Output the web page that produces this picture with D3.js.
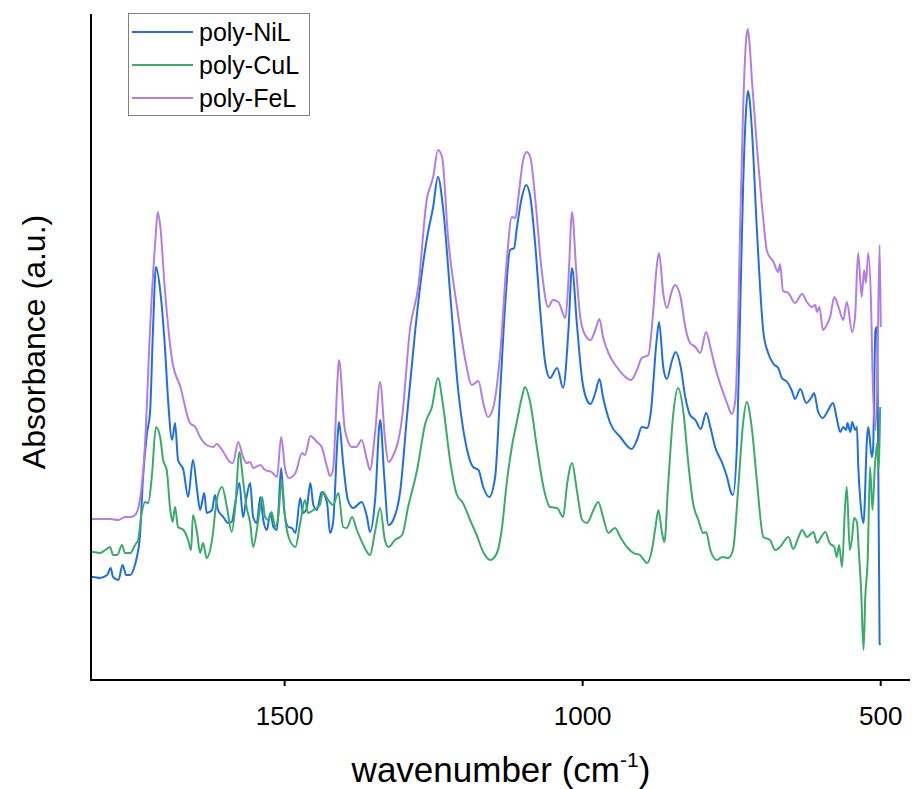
<!DOCTYPE html>
<html>
<head>
<meta charset="utf-8">
<script src="https://cdn.jsdelivr.net/npm/d3@7"></script>
<style>
  html, body { margin: 0; padding: 0; background: #fff; }
  svg { display: block; font-family: "Liberation Sans", Arial, sans-serif; }
</style>
</head>
<body>
<svg id="chart" width="912" height="789"></svg>
<script>
// ---- data: [wavenumber (cm-1), absorbance (a.u., offset)] ----
const seriesNames = ["poly-NiL", "poly-CuL", "poly-FeL"];
const xTicks = [1500, 1000, 500];
const xDomain = [1824, 450];
const yDomain = [0, 6.66];

const niL = [[1824,1.03],[1820,1.03],[1809,1.02],[1797,1.05],[1791,1.12],[1787,1.03],[1778,1.00],[1771,1.15],[1765,1.05],[1758,1.05],[1753,1.10],[1747,1.23],[1742,1.43],[1737,2.00],[1730,2.47],[1725,2.67],[1720,3.50],[1715,4.13],[1708,3.90],[1700,3.33],[1695,2.83],[1688,2.40],[1683,2.57],[1678,2.20],[1669,2.10],[1661,1.83],[1653,2.20],[1646,1.90],[1641,1.70],[1634,1.87],[1630,1.67],[1621,1.70],[1616,1.85],[1611,1.70],[1602,1.63],[1594,1.57],[1588,1.58],[1582,1.77],[1575,1.97],[1569,1.63],[1563,1.83],[1557,1.97],[1552,1.63],[1546,1.57],[1540,1.83],[1535,1.60],[1529,1.50],[1523,1.67],[1518,1.53],[1512,1.50],[1505,2.12],[1500,1.70],[1493,1.53],[1487,1.52],[1481,1.47],[1473,1.82],[1468,1.67],[1462,1.72],[1456,1.97],[1451,1.75],[1445,1.70],[1437,1.88],[1428,1.77],[1423,1.47],[1418,1.57],[1410,2.45],[1408,2.58],[1401,2.17],[1393,1.80],[1384,1.72],[1370,1.78],[1361,1.63],[1356,1.48],[1347,1.83],[1339,2.60],[1332,2.03],[1325,1.55],[1317,1.60],[1305,1.90],[1294,2.63],[1280,3.50],[1269,4.07],[1260,4.43],[1250,4.73],[1242,5.03],[1233,4.70],[1221,3.83],[1208,2.90],[1193,2.30],[1183,2.13],[1174,2.10],[1166,1.93],[1156,1.83],[1146,2.03],[1138,2.83],[1129,3.77],[1121,4.30],[1114,4.32],[1110,4.50],[1101,4.83],[1094,4.95],[1087,4.83],[1079,4.37],[1070,3.67],[1062,3.17],[1054,3.02],[1042,3.12],[1032,2.92],[1023,3.50],[1017,4.12],[1009,3.57],[1000,3.00],[992,2.80],[986,2.76],[978,2.87],[971,3.01],[965,2.83],[953,2.57],[936,2.43],[917,2.31],[908,2.40],[900,2.53],[891,2.52],[885,2.67],[875,3.40],[871,3.58],[864,3.13],[858,3.01],[849,3.20],[843,3.28],[835,3.14],[827,2.83],[819,2.65],[810,2.60],[801,2.51],[792,2.67],[785,2.53],[777,2.33],[765,2.17],[757,2.03],[750,1.87],[747,1.85],[740,2.40],[735,3.67],[730,4.93],[725,5.70],[722,5.89],[719,5.80],[715,5.48],[707,4.52],[696,3.48],[688,3.27],[679,3.16],[671,3.12],[665,3.02],[656,2.98],[648,2.89],[643,2.81],[634,2.91],[624,2.77],[615,2.83],[611,2.87],[604,2.68],[596,2.62],[589,2.68],[579,2.77],[573,2.62],[567,2.48],[562,2.53],[557,2.50],[555,2.57],[550,2.48],[547,2.58],[542,2.50],[539,2.53],[537,2.17],[533,1.77],[528,1.57],[522,2.43],[520,2.53],[514,2.23],[512,2.30],[508,3.50],[505,3.53],[501,0.37],[500,0.35]];

const cuL = [[1824,1.28],[1820,1.28],[1809,1.27],[1800,1.30],[1792,1.33],[1787,1.25],[1780,1.25],[1772,1.35],[1767,1.27],[1758,1.27],[1750,1.35],[1745,1.40],[1739,1.67],[1733,1.78],[1728,1.77],[1722,2.03],[1715,2.53],[1708,2.43],[1703,2.20],[1697,2.10],[1691,1.70],[1687,1.58],[1683,1.73],[1678,1.53],[1669,1.50],[1661,1.40],[1656,1.30],[1653,1.65],[1646,1.47],[1641,1.27],[1636,1.37],[1630,1.22],[1621,1.40],[1613,1.80],[1604,1.93],[1596,1.73],[1588,1.48],[1582,1.73],[1575,2.28],[1569,2.00],[1563,1.73],[1557,1.57],[1552,1.33],[1544,1.57],[1537,1.83],[1532,1.63],[1527,1.60],[1521,1.68],[1515,1.53],[1510,1.63],[1504,1.98],[1498,1.60],[1492,1.42],[1481,1.33],[1473,1.57],[1465,1.80],[1460,1.67],[1451,1.70],[1440,1.75],[1435,1.88],[1426,1.80],[1418,1.75],[1409,1.87],[1401,1.53],[1395,1.52],[1386,1.63],[1378,1.50],[1367,1.35],[1356,1.25],[1347,1.50],[1339,1.72],[1331,1.40],[1325,1.33],[1314,1.40],[1302,1.45],[1292,1.73],[1277,2.10],[1263,2.57],[1252,2.73],[1242,3.02],[1233,2.73],[1221,2.17],[1210,1.85],[1200,1.77],[1188,1.60],[1177,1.45],[1166,1.28],[1154,1.20],[1143,1.27],[1135,1.50],[1126,2.00],[1118,2.33],[1110,2.57],[1101,2.83],[1096,2.93],[1087,2.77],[1076,2.33],[1065,1.93],[1054,1.73],[1042,1.72],[1032,1.63],[1025,1.97],[1017,2.17],[1009,1.90],[1000,1.60],[992,1.57],[981,1.70],[973,1.78],[965,1.63],[956,1.47],[945,1.52],[936,1.43],[925,1.33],[914,1.27],[903,1.25],[891,1.17],[883,1.30],[877,1.53],[872,1.70],[866,1.47],[862,1.38],[856,1.93],[847,2.67],[839,2.92],[830,2.67],[822,2.17],[814,1.77],[805,1.60],[797,1.47],[792,1.48],[785,1.30],[774,1.20],[765,1.23],[755,1.22],[747,1.30],[738,1.93],[730,2.57],[724,2.78],[715,2.50],[707,2.00],[696,1.43],[685,1.40],[676,1.30],[668,1.33],[654,1.43],[646,1.31],[637,1.43],[631,1.50],[623,1.43],[612,1.48],[606,1.37],[601,1.41],[592,1.48],[585,1.37],[577,1.33],[573,1.23],[569,1.35],[564,1.13],[559,1.73],[556,1.93],[551,1.30],[547,1.43],[544,1.62],[539,1.58],[536,1.30],[532,0.90],[528,0.30],[525,0.83],[521,1.20],[517,2.13],[513,1.70],[509,2.13],[505,2.37],[503,2.10],[500,2.73]];

const feL = [[1824,1.61],[1792,1.61],[1778,1.60],[1767,1.63],[1758,1.63],[1750,1.65],[1742,1.80],[1733,2.40],[1725,3.50],[1716,4.40],[1712,4.68],[1708,4.55],[1700,3.90],[1688,3.20],[1674,2.93],[1658,2.57],[1649,2.53],[1641,2.43],[1630,2.35],[1619,2.33],[1613,2.36],[1602,2.28],[1591,2.18],[1586,2.17],[1577,2.38],[1569,2.23],[1563,2.17],[1557,2.18],[1552,2.12],[1540,2.15],[1532,2.10],[1521,2.08],[1512,2.03],[1505,2.43],[1498,2.10],[1492,2.02],[1481,2.07],[1470,2.27],[1465,2.25],[1456,2.44],[1445,2.38],[1437,2.33],[1428,2.13],[1423,2.04],[1418,2.10],[1410,3.05],[1408,3.20],[1398,2.50],[1386,2.33],[1379,2.33],[1370,2.40],[1361,2.20],[1356,2.10],[1347,2.50],[1339,2.98],[1331,2.43],[1325,2.18],[1319,2.22],[1302,2.63],[1289,3.50],[1275,3.93],[1260,4.83],[1255,4.93],[1250,5.03],[1242,5.30],[1235,5.23],[1225,4.43],[1210,3.73],[1196,3.20],[1185,2.95],[1174,2.99],[1166,2.77],[1158,2.63],[1149,2.73],[1138,3.23],[1126,4.23],[1118,4.63],[1112,4.62],[1107,4.83],[1099,5.20],[1093,5.28],[1087,5.23],[1079,4.83],[1068,4.10],[1057,3.73],[1049,3.80],[1040,3.78],[1028,3.62],[1023,4.00],[1017,4.68],[1010,4.10],[1003,3.62],[995,3.45],[986,3.40],[978,3.50],[971,3.61],[965,3.43],[956,3.27],[942,3.13],[931,3.05],[918,3.00],[908,3.10],[900,3.22],[889,3.25],[881,3.67],[875,4.13],[871,4.27],[864,3.87],[858,3.72],[849,3.90],[844,3.95],[835,3.83],[827,3.53],[819,3.37],[810,3.33],[802,3.27],[792,3.48],[785,3.33],[777,3.13],[765,2.90],[757,2.77],[749,2.66],[743,2.80],[738,3.67],[735,4.52],[730,5.70],[725,6.40],[722,6.51],[719,6.35],[715,5.98],[707,5.35],[696,4.60],[690,4.29],[679,4.18],[671,4.08],[668,4.16],[663,3.89],[654,3.87],[643,3.77],[631,3.86],[623,3.78],[615,3.73],[609,3.75],[606,3.68],[602,3.73],[596,3.50],[589,3.56],[584,3.63],[577,3.83],[570,3.73],[562,3.60],[556,3.78],[547,3.48],[542,3.65],[537,4.27],[531,3.83],[527,4.10],[524,3.97],[520,4.27],[515,3.67],[513,3.10],[508,2.50],[505,3.00],[501,4.35],[499,3.53]];

const seriesData = [niL, cuL, feL];
const seriesColors = ["#1f6fe3", "#3aab69", "#b27de6"];

// ---- layout ----
const svg = d3.select("#chart");
const mLeft = 91, mRight = 910, mTop = 14, mBottom = 680;

const x = d3.scaleLinear().domain(xDomain).range([mLeft, mRight]);
const y = d3.scaleLinear().domain(yDomain).range([mBottom, mTop]);

const line = d3.line()
  .x(d => x(d[0]))
  .y(d => y(d[1]))
  .curve(d3.curveMonotoneX);

const plot = svg.append("g");
plot.append("defs").append("clipPath").attr("id", "clip")
  .append("rect").attr("x", mLeft).attr("y", mTop - 10).attr("width", mRight - mLeft).attr("height", mBottom - mTop + 10);

seriesData.forEach((s, i) => {
  plot.append("path")
    .datum(s)
    .attr("fill", "none")
    .attr("stroke", seriesColors[i])
    .attr("stroke-width", 2)
    .attr("stroke-linejoin", "round")
    .attr("clip-path", "url(#clip)")
    .attr("d", line);
});

// x axis
const xAxis = d3.axisBottom(x).tickValues(xTicks).tickSize(6).tickPadding(21).tickFormat(d3.format("d"));
const gx = svg.append("g").attr("transform", `translate(0,${mBottom})`).call(xAxis);
gx.select(".domain").attr("stroke", "#000").attr("stroke-width", 2).attr("d", `M${mLeft - 1},0H${mRight}`);
gx.selectAll(".tick line").attr("stroke", "#000").attr("stroke-width", 2);
gx.selectAll(".tick text").attr("fill", "#000").attr("font-size", 26).attr("font-family", "Liberation Sans, Arial, sans-serif");

// y axis (no ticks)
svg.append("line").attr("x1", mLeft).attr("x2", mLeft).attr("y1", mTop).attr("y2", mBottom + 1)
  .attr("stroke", "#000").attr("stroke-width", 2);

// axis titles
const xt = svg.append("text")
  .attr("x", 501).attr("y", 782)
  .attr("text-anchor", "middle")
  .attr("font-size", 35)
  .attr("fill", "#000");
xt.append("tspan").text("wavenumber (cm");
xt.append("tspan").text("-1").attr("font-size", 21).attr("dy", -15);
xt.append("tspan").text(")").attr("dy", 15);

svg.append("text")
  .attr("transform", "translate(45,342) rotate(-90)")
  .attr("text-anchor", "middle")
  .attr("font-size", 32)
  .attr("fill", "#000")
  .text("Absorbance (a.u.)");

// legend
const lg = svg.append("g");
lg.append("rect").attr("x", 128.5).attr("y", 13.5).attr("width", 181).attr("height", 102)
  .attr("fill", "#fff").attr("stroke", "#808080").attr("stroke-width", 1);
seriesNames.forEach((n, i) => {
  const yy = 32 + i * 33;
  lg.append("line").attr("x1", 132).attr("x2", 193).attr("y1", yy).attr("y2", yy)
    .attr("stroke", seriesColors[i]).attr("stroke-width", 2);
  lg.append("text").attr("x", 199).attr("y", yy + 9).attr("font-size", 25).attr("fill", "#000").text(n);
});
</script>
</body>
</html>
